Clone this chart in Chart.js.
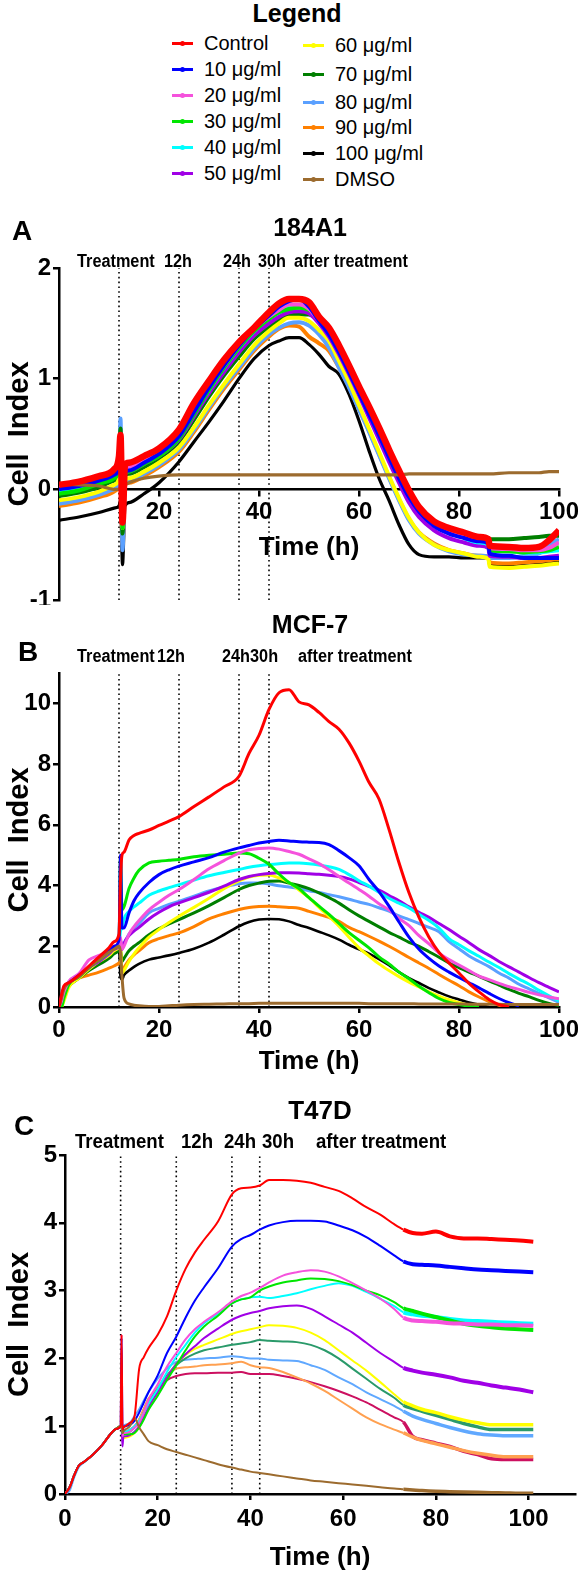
<!DOCTYPE html>
<html><head><meta charset="utf-8">
<script src="https://cdn.jsdelivr.net/npm/chart.js@4.4.1/dist/chart.umd.min.js"></script>
<style>
html,body{margin:0;padding:0;background:#fff;}
body{width:578px;height:1573px;position:relative;overflow:hidden;font-family:"Liberation Sans",Arial,Helvetica,sans-serif;color:#000;}
canvas{position:absolute;left:0;}
.lgt{position:absolute;font-size:20px;line-height:24px;white-space:nowrap;}
.lgl{position:absolute;height:3px;width:21px;}
.lgd{position:absolute;width:5px;height:5px;border-radius:50%;}
#legendTitle{position:absolute;left:197px;width:200px;top:0;text-align:center;font-weight:bold;font-size:25px;line-height:27px;}
</style></head>
<body>
<div id="legendTitle">Legend</div>
<div id="legend"></div>
<canvas id="cA" width="578" height="415" style="top:190px"></canvas>
<canvas id="cB" width="578" height="475" style="top:605px"></canvas>
<canvas id="cC" width="578" height="493" style="top:1080px"></canvas>
<div id="msg" style="position:absolute;left:0;top:0;color:red;font-size:10px"></div>
<script>
// ---------- data ----------
const seriesNames = ['Control','10 μg/ml','20 μg/ml','30 μg/ml','40 μg/ml','50 μg/ml','60 μg/ml','70 μg/ml','80 μg/ml','90 μg/ml','100 μg/ml','DMSO'];
const panelTitles = ['184A1','MCF-7','T47D'];
const panelLetters = ['A','B','C'];
const annotA = ['Treatment','12h','24h','30h','after treatment'];
const annotB = ['Treatment','12h','24h30h','after treatment'];
const annotC = ['Treatment','12h','24h','30h','after treatment'];
const markerTimes = [12,24,36,42];
const xTickLabelsAB = [0,20,40,60,80,100];
const yTicksA = [-1,0,1,2];
const yTicksB = [0,2,4,6,8,10];
const yTicksC = [0,1,2,3,4,5];

// Panel A: 184A1
const timeA = [0,4,8,11,12,12.3,12.7,13.2,14,17,20,24,27,30,33,36,39,42,44,46,48,50,52,54,56,58,60,62,64,66,68,70,72,75,78,81,84,85.9,86.1,90,93,96,98,100];
const aControl = [0.04,0.07,0.12,0.18,0.30, 0.49,-0.30,0.22,0.24,0.30, 0.37,0.54,0.78,0.98,1.17, 1.33,1.46,1.60,1.68,1.72, 1.72,1.69,1.56,1.46,1.30, 1.12,0.93,0.75,0.56,0.36, 0.17,-0.01,-0.16,-0.29,-0.35, -0.39,-0.43,-0.45,-0.51,-0.52, -0.53,-0.52,-0.46,-0.37];
const a10 = [0.00,0.03,0.08,0.13,0.20, 0.35,-0.30,0.15,0.17,0.24, 0.32,0.48,0.70,0.92,1.12, 1.30,1.45,1.57,1.65,1.70, 1.72,1.65,1.52,1.40,1.24, 1.06,0.87,0.68,0.49,0.29, 0.10,-0.07,-0.20,-0.33,-0.40, -0.44,-0.47,-0.49,-0.58,-0.60, -0.62,-0.62,-0.62,-0.62];
const a20 = [0.02,0.05,0.10,0.15,0.25, 0.40,-0.28,0.18,0.20,0.27, 0.34,0.50,0.72,0.93,1.12, 1.30,1.45,1.56,1.62,1.67, 1.67,1.63,1.52,1.41,1.25, 1.07,0.88,0.70,0.51,0.31, 0.12,-0.05,-0.18,-0.30,-0.37, -0.42,-0.45,-0.47,-0.53,-0.54, -0.55,-0.55,-0.53,-0.48];
const a30 = [-0.04,-0.01,0.05,0.10,0.20, 0.45,-0.35,0.14,0.16,0.23, 0.30,0.46,0.68,0.90,1.10, 1.28,1.43,1.54,1.60,1.63, 1.64,1.62,1.55,1.42,1.26, 1.08,0.89,0.70,0.50,0.30, 0.11,-0.06,-0.19,-0.31,-0.38, -0.42,-0.45,-0.47,-0.55,-0.56, -0.57,-0.56,-0.55,-0.52];
const a40 = [-0.02,0.01,0.06,0.11,0.20, 0.40,-0.30,0.15,0.17,0.24, 0.31,0.47,0.69,0.90,1.10, 1.28,1.43,1.55,1.60,1.64, 1.65,1.64,1.55,1.43,1.28, 1.10,0.91,0.72,0.53,0.33, 0.13,-0.04,-0.18,-0.31,-0.39, -0.44,-0.48,-0.50,-0.56,-0.56, -0.57,-0.57,-0.56,-0.55];
const a50 = [0.00,0.03,0.08,0.13,0.22, 0.35,-0.30,0.14,0.16,0.23, 0.30,0.45,0.66,0.87,1.06, 1.24,1.39,1.50,1.56,1.60, 1.61,1.59,1.50,1.38,1.22, 1.04,0.85,0.65,0.45,0.25, 0.06,-0.12,-0.25,-0.37,-0.44, -0.48,-0.51,-0.53,-0.60,-0.61, -0.62,-0.62,-0.61,-0.60];
const a60 = [-0.10,-0.07,-0.02,0.04,0.10, 0.30,-0.35,0.08,0.10,0.16, 0.24,0.38,0.56,0.76,0.95, 1.13,1.30,1.43,1.50,1.55, 1.55,1.52,1.44,1.34,1.16, 0.97,0.76,0.55,0.34,0.12, -0.08,-0.26,-0.39,-0.50,-0.55, -0.58,-0.61,-0.63,-0.70,-0.71, -0.70,-0.69,-0.68,-0.67];
const a70 = [-0.06,-0.03,0.02,0.08,0.15, 0.55,-0.40,0.12,0.14,0.20, 0.28,0.43,0.63,0.84,1.03, 1.20,1.36,1.47,1.53,1.57, 1.58,1.58,1.52,1.40,1.24, 1.06,0.87,0.68,0.48,0.28, 0.09,-0.08,-0.21,-0.32,-0.38, -0.41,-0.43,-0.44,-0.45,-0.45, -0.44,-0.43,-0.42,-0.42];
const a80 = [-0.13,-0.10,-0.05,0.00,0.08, 0.64,-0.55,0.06,0.08,0.14, 0.22,0.36,0.54,0.74,0.93, 1.10,1.27,1.40,1.46,1.50, 1.51,1.48,1.40,1.28,1.10, 0.92,0.72,0.52,0.31,0.10, -0.10,-0.28,-0.40,-0.50,-0.56, -0.59,-0.60,-0.61,-0.62,-0.62, -0.60,-0.58,-0.50,-0.45];
const a90 = [-0.15,-0.12,-0.07,-0.02,0.05, 0.20,-0.50,0.04,0.06,0.12, 0.20,0.34,0.52,0.72,0.91, 1.08,1.25,1.38,1.45,1.48, 1.47,1.38,1.32,1.25,1.10, 0.93,0.73,0.53,0.32,0.11, -0.09,-0.27,-0.39,-0.49,-0.55, -0.58,-0.60,-0.61,-0.66,-0.67, -0.66,-0.65,-0.64,-0.63];
const a100 = [-0.28,-0.25,-0.21,-0.17,-0.15, -0.10,-0.68,-0.15,-0.12,-0.04, 0.06,0.25,0.43,0.61,0.80, 1.00,1.18,1.30,1.34,1.37, 1.37,1.31,1.22,1.11,1.04, 0.86,0.62,0.35,0.10,-0.10, -0.32,-0.50,-0.59,-0.61,-0.61, -0.62,-0.62,-0.62,-0.68,-0.68, -0.67,-0.66,-0.66,-0.65];
const aDMSO = [0.05,0.04,0.03,0.00,0.00, 0.02,0.03,0.04,0.06,0.10, 0.12,0.13,0.13,0.13,0.13, 0.13,0.13,0.13,0.13,0.13, 0.13,0.13,0.13,0.13,0.13, 0.13,0.13,0.13,0.13,0.13, 0.13,0.14,0.14,0.14,0.14, 0.14,0.14,0.14,0.14,0.15, 0.15,0.15,0.16,0.16];

// Panel B: MCF-7
const timeB = [0,0.5,1,2,4, 6,8,10,11,12, 12.3,12.6,13,14,15, 16,18,20,22,24, 27,30,33,36,38, 40,42,44,46,48, 50,52,54,56,58, 60,62,64,66,68, 70,72,74,76,78, 80,82,84,86,88, 90,92,94,96,98, 100];
const bControl = [0,0.4,0.7,0.8,1.05, 1.35,1.65,1.95,2.15,2.4, 4.2,5.0,5.1,5.5,5.65, 5.72,5.83,5.98,6.12,6.27, 6.6,6.92,7.25,7.6,8.35, 8.95,9.8,10.35,10.45,10.05, 9.95,9.7,9.4,9.15,8.7, 8.1,7.4,6.85,5.85,4.75, 3.76,2.95,2.3,1.8,1.45, 1.12,0.78,0.5,0.25,0.08, 0,null,null,null,null, null];
const b10 = [0,0.35,0.65,0.8,1.05, 1.3,1.6,1.85,2.0,2.2, 5.0,2.6,2.6,3.1,3.5, 3.75,4.1,4.36,4.52,4.64, 4.78,4.92,5.1,5.24,5.32, 5.4,5.45,5.49,5.47,5.44, 5.43,5.42,5.35,5.15,4.92, 4.65,4.2,3.8,3.32,2.8, 2.3,1.9,1.6,1.35,1.15, 0.97,0.8,0.63,0.45,0.28, 0.14,0.04,null,null,null, null];
const b20 = [0,0.2,0.5,0.85,1.1, 1.55,1.7,1.85,2.0,2.1, 2.3,1.9,2.0,2.4,2.65, 2.85,3.2,3.45,3.68,3.87, 4.2,4.55,4.82,5.07,5.18, 5.22,5.24,5.2,5.12,5.03, 4.88,4.72,4.52,4.3,4.08, 3.87,3.65,3.4,3.2,2.92, 2.68,2.35,2.08,1.78,1.56, 1.38,1.2,1.02,0.9,0.78, 0.67,0.58,0.48,0.4,0.33, 0.27];
const b30 = [0,0,0.3,0.75,1.0, 1.3,1.55,1.8,1.95,2.1, 4.95,3.2,3.3,3.9,4.25, 4.5,4.75,4.8,4.83,4.86, 4.95,5.0,5.03,5.07,5.05, 4.9,4.7,4.38,4.1,3.9, 3.6,3.32,3.05,2.75,2.45, 2.2,1.95,1.65,1.42,1.15, 0.93,0.68,0.47,0.28,0.15, 0.08,0.03,0,null,null, null,null,null,null,null, null];
const b40 = [0,0.3,0.6,0.8,1.0, 1.3,1.55,1.8,1.95,2.05, 2.5,2.6,2.9,3.15,3.3, 3.42,3.68,3.82,3.93,4.03, 4.18,4.32,4.43,4.53,4.6, 4.65,4.69,4.72,4.74,4.74, 4.72,4.68,4.62,4.53,4.36, 4.16,3.98,3.78,3.58,3.42, 3.26,3.05,2.85,2.6,2.25, 2.05,1.85,1.67,1.48,1.3, 1.1,0.92,0.75,0.55,0.37, 0.2];
const b50 = [0,0.3,0.55,0.8,1.0, 1.3,1.5,1.75,1.9,2.0, 2.2,1.9,2.1,2.35,2.5, 2.62,2.9,3.12,3.3,3.43, 3.6,3.78,3.98,4.2,4.3, 4.36,4.4,4.42,4.42,4.41, 4.39,4.37,4.34,4.3,4.22, 4.1,3.97,3.85,3.67,3.5, 3.3,3.12,2.95,2.75,2.55, 2.33,2.12,1.89,1.7,1.5, 1.32,1.15,0.97,0.8,0.65, 0.5];
const b60 = [0,0,0.2,0.65,0.95, 1.25,1.5,1.7,1.85,1.95, 2.0,1.1,1.2,1.5,1.75, 1.95,2.3,2.55,2.78,2.99, 3.28,3.58,3.9,4.15,4.28, 4.34,4.35,4.25,4.1,3.85, 3.6,3.28,2.98,2.66,2.3, 1.95,1.68,1.42,1.2,1.0, 0.82,0.66,0.5,0.36,0.24, 0.14,0.06,null,null,null, null,null,null,null,null, null];
const b70 = [0,0.2,0.5,0.7,0.95, 1.2,1.4,1.6,1.75,1.85, 1.9,1.5,1.6,1.85,2.0, 2.12,2.38,2.58,2.74,2.88, 3.1,3.34,3.6,3.87,4.0, 4.08,4.14,4.15,4.08,4.0, 3.9,3.76,3.6,3.42,3.2, 3.0,2.82,2.64,2.46,2.3, 2.13,2.0,1.82,1.64,1.45, 1.3,1.15,1.01,0.86,0.72, 0.58,0.45,0.34,0.22,0.12, 0.05];
const b80 = [0,0.3,0.6,0.8,1.0, 1.25,1.5,1.7,1.85,1.95, 2.2,2.0,2.1,2.4,2.6, 2.75,3.1,3.25,3.38,3.48, 3.65,3.82,3.95,4.06,4.08, 4.08,4.05,3.99,3.95,3.9, 3.83,3.77,3.7,3.63,3.55, 3.46,3.38,3.27,3.16,3.0, 2.88,2.75,2.62,2.48,2.15, 1.92,1.68,1.5,1.33,1.12, 0.95,0.75,0.6,0.45,0.3, 0.15];
const b90 = [0,0.2,0.5,0.7,0.95, 1.05,1.15,1.28,1.35,1.45, 1.5,1.2,1.3,1.55,1.72, 1.85,2.12,2.25,2.35,2.44, 2.65,2.9,3.07,3.21,3.28, 3.31,3.32,3.3,3.28,3.25, 3.15,3.05,2.95,2.82,2.62, 2.48,2.33,2.17,2.0,1.82, 1.63,1.45,1.27,1.07,0.88, 0.7,0.5,0.33,0.18,0.06, 0,null,null,null,null, null];
const b100 = [0,0.2,0.5,0.75,1.0, 1.25,1.5,1.7,1.85,1.95, 1.0,0.9,1.05,1.2,1.32, 1.42,1.56,1.63,1.7,1.78, 1.92,2.12,2.38,2.66,2.8, 2.88,2.9,2.89,2.82,2.7, 2.6,2.48,2.36,2.22,2.05, 1.9,1.76,1.58,1.38,1.15, 0.95,0.79,0.62,0.48,0.35, 0.25,0.15,0.08,0,null, null,null,null,null,null, null];
const bDMSO = [0,0.3,0.6,0.8,1.0, 1.3,1.55,1.8,1.9,2.0, 1.8,1.0,0.3,0.1,0.06, 0.04,0.02,0.02,0.04,0.06, 0.08,0.09,0.1,0.11,0.11, 0.12,0.12,0.12,0.12,0.12, 0.12,0.12,0.12,0.12,0.12, 0.12,0.11,0.11,0.11,0.11, 0.11,0.1,0.1,0.1,0.1, 0.1,0.09,0.09,0.09,0.09, 0.08,0.08,0.08,0.08,0.08, 0.08];

// Panel C: T47D
const timeC = [0,1,2,3,4, 6,8,10,11,12, 12.2,12.4,12.6,13,14, 15,16,17,18,20, 22,24,26,28,30, 33,36,38,40,42, 44,47,50,53,56, 59,62,65,68,71, 73,75,77,80,83, 86,89,92,95,98, 101];
const cControl = [0,0.1,0.28,0.42,0.47, 0.58,0.72,0.9,0.96,1.0, 2.35,0.95,0.98,1.0,1.05, 1.15,1.85,2.02,2.15,2.35, 2.62,3.0,3.32,3.56,3.75, 4.02,4.42,4.51,4.52,4.55, 4.63,4.63,4.62,4.59,4.53, 4.47,4.36,4.23,4.12,3.98, 3.9,3.85,3.84,3.87,3.8, 3.77,3.77,3.76,3.75,3.74, 3.72];
const c10 = [0,0.1,0.28,0.42,0.47, 0.58,0.72,0.9,0.96,1.0, 2.3,0.9,0.98,1.0,1.02, 1.08,1.2,1.35,1.5,1.75, 2.08,2.32,2.6,2.85,3.05, 3.33,3.65,3.76,3.82,3.9, 3.96,4.01,4.03,4.03,4.02, 3.96,3.89,3.79,3.66,3.52, 3.43,3.39,3.38,3.37,3.35, 3.33,3.31,3.3,3.29,3.28, 3.27];
const c20 = [0,0.1,0.28,0.42,0.47, 0.58,0.72,0.9,0.96,1.0, 2.35,0.85,0.9,0.9,0.92, 0.98,1.05,1.2,1.38,1.62, 1.88,2.08,2.28,2.43,2.54, 2.68,2.84,2.92,2.97,3.04, 3.12,3.22,3.27,3.3,3.28, 3.21,3.11,3.0,2.88,2.73, 2.6,2.56,2.55,2.54,2.52, 2.51,2.5,2.5,2.49,2.49, 2.48];
const c30 = [0,0.1,0.28,0.42,0.47, 0.58,0.72,0.9,0.96,1.0, 1.0,0.9,0.88,0.88,0.88, 0.9,0.98,1.1,1.24,1.45, 1.68,1.9,2.12,2.32,2.47, 2.63,2.81,2.87,2.9,3.0, 3.06,3.12,3.15,3.18,3.17, 3.14,3.08,3.0,2.93,2.83, 2.74,2.7,2.66,2.61,2.56, 2.51,2.48,2.46,2.44,2.43, 2.42];
const c40 = [0,0.1,0.28,0.42,0.47, 0.58,0.72,0.9,0.96,1.0, 1.0,0.9,0.92,0.92,0.95, 1.0,1.08,1.2,1.33,1.55, 1.8,2.02,2.2,2.38,2.52, 2.66,2.81,2.87,2.9,2.91, 2.89,2.92,2.96,3.02,3.07, 3.11,3.07,2.98,2.88,2.77, 2.68,2.65,2.63,2.61,2.58, 2.56,2.55,2.54,2.53,2.52, 2.51];
const c50 = [0,0.1,0.28,0.42,0.47, 0.58,0.72,0.9,0.96,1.0, 1.0,0.7,0.85,0.85,0.87, 0.92,1.0,1.13,1.28,1.5, 1.72,1.92,2.06,2.18,2.3, 2.44,2.57,2.63,2.67,2.7, 2.74,2.77,2.78,2.73,2.62, 2.5,2.38,2.23,2.08,1.95, 1.86,1.82,1.79,1.76,1.72, 1.67,1.64,1.6,1.57,1.54, 1.5];
const c60 = [0,0.1,0.28,0.42,0.47, 0.58,0.72,0.9,0.96,1.0, 1.0,0.8,0.82,0.83,0.85, 0.9,0.98,1.12,1.28,1.5, 1.72,1.92,2.05,2.14,2.2, 2.28,2.36,2.4,2.43,2.46, 2.49,2.48,2.45,2.38,2.27, 2.12,1.97,1.82,1.65,1.47, 1.36,1.3,1.25,1.2,1.14, 1.09,1.05,1.02,1.02,1.02, 1.02];
const c70 = [0,0.1,0.28,0.42,0.47, 0.58,0.72,0.9,0.96,1.0, 1.0,0.88,0.9,0.9,0.92, 0.98,1.06,1.2,1.35,1.55, 1.75,1.9,2.0,2.07,2.12, 2.16,2.2,2.22,2.24,2.27, 2.26,2.25,2.24,2.2,2.12, 2.0,1.85,1.7,1.55,1.42, 1.31,1.26,1.22,1.16,1.1, 1.04,0.99,0.95,0.95,0.95, 0.95];
const c80 = [0,0.05,0.25,0.4,0.46, 0.58,0.72,0.9,0.96,1.0, 1.0,0.95,1.0,1.02,1.05, 1.15,1.25,1.38,1.5,1.7, 1.85,1.95,1.98,1.99,2.0, 2.01,2.03,2.02,2.0,2.0, 1.98,1.97,1.96,1.9,1.83, 1.72,1.62,1.5,1.4,1.3, 1.22,1.15,1.1,1.04,0.98, 0.93,0.89,0.87,0.86,0.86, 0.86];
const c90 = [0,0.1,0.28,0.42,0.47, 0.58,0.72,0.9,0.96,1.0, 1.0,0.9,0.92,0.92,0.95, 1.0,1.1,1.25,1.4,1.58, 1.75,1.85,1.87,1.88,1.9, 1.91,1.93,1.95,1.9,1.87, 1.86,1.8,1.72,1.63,1.52, 1.39,1.26,1.13,1.03,0.95, 0.9,0.84,0.79,0.74,0.69, 0.64,0.6,0.57,0.55,0.55, 0.55];
const c100 = [0,0.1,0.28,0.42,0.47, 0.58,0.72,0.9,0.96,1.0, 1.0,0.9,0.92,0.92,0.95, 1.0,1.1,1.25,1.4,1.55, 1.68,1.74,1.77,1.78,1.78, 1.79,1.79,1.8,1.77,1.77, 1.77,1.74,1.7,1.65,1.59, 1.52,1.44,1.35,1.24,1.13, 1.06,0.85,0.8,0.75,0.7, 0.63,0.58,0.52,0.51,0.51, 0.51];
const cDMSO = [0,0.1,0.28,0.42,0.47, 0.58,0.72,0.9,0.96,1.0, 1.0,0.9,0.92,0.95,1.0, 1.12,0.98,0.88,0.78,0.72, 0.66,0.62,0.58,0.54,0.5, 0.44,0.39,0.36,0.33,0.31, 0.29,0.26,0.23,0.2,0.18, 0.16,0.14,0.12,0.1,0.08, 0.07,0.06,0.05,0.04,0.035, 0.03,0.025,0.02,0.015,0.01, 0.01];

// ---------- styles ----------
const FONT = '"Liberation Sans", Arial, Helvetica, sans-serif';
const colorsAB = ['#ff0000','#0000ff','#f552dc','#00e600','#00ffff','#a000e6','#ffff00','#007f00','#5aa0ff','#ff8000','#000000','#9c6b2e'];
const colorsC  = ['#ff0000','#0000ff','#f552dc','#00e600','#00ffff','#a000e6','#ffff00','#2a9a6a','#60a8ff','#ffa050','#cc1060','#9c6b2e'];
const ordersAll = [0,3,4,5,6,7,8,9,10,11,12,1];

Chart.defaults.font.family = FONT;
Chart.defaults.color = '#000';

// legend (HTML)
const legendLayout = {
  col: [{sw:172, tx:204, rows:[43,69,95,121,147,173]}, {sw:303, tx:335, rows:[45,74,102,127,153,179]}]
};
(function(){
  const host = document.getElementById('legend');
  seriesNames.forEach((name, i) => {
    const c = legendLayout.col[i < 6 ? 0 : 1];
    const y = c.rows[i % 6];
    const ln = document.createElement('div'); ln.className='lgl';
    ln.style.left = c.sw+'px'; ln.style.top = (y-1.5)+'px'; ln.style.background = colorsAB[i];
    const dt = document.createElement('div'); dt.className='lgd';
    dt.style.left = (c.sw+8)+'px'; dt.style.top = (y-2.5)+'px'; dt.style.background = colorsAB[i];
    const tx = document.createElement('div'); tx.className='lgt';
    tx.style.left = c.tx+'px'; tx.style.top = (y-12)+'px'; tx.textContent = name;
    host.appendChild(ln); host.appendChild(dt); host.appendChild(tx);
  });
})();

// check lengths
(function(){
  const probs = [];
  const chk = (t, arrs, tag) => arrs.forEach((a,i)=>{ if (a.length !== t.length) probs.push(tag+i+':'+a.length+'/'+t.length); });
  chk(timeA,[aControl,a10,a20,a30,a40,a50,a60,a70,a80,a90,a100,aDMSO],'A');
  chk(timeB,[bControl,b10,b20,b30,b40,b50,b60,b70,b80,b90,b100,bDMSO],'B');
  chk(timeC,[cControl,c10,c20,c30,c40,c50,c60,c70,c80,c90,c100,cDMSO],'C');
  if (probs.length) document.getElementById('msg').textContent = probs.join(' ');
})();

const panelText = {
  id: 'panelText',
  afterDraw(chart, args, o) {
    const ctx = chart.ctx;
    ctx.save();
    ctx.fillStyle = '#000';
    ctx.textBaseline = 'middle';
    ctx.textAlign = 'left';
    ctx.font = 'bold ' + o.letterSize + 'px ' + FONT;
    ctx.fillText(o.letter, o.letterX, o.letterY);
    ctx.textAlign = 'center';
    ctx.font = 'bold ' + o.titleSize + 'px ' + FONT;
    ctx.fillText(o.title, o.titleX, o.titleY);
    ctx.textAlign = 'left';
    ctx.font = 'bold ' + o.annotSize + 'px ' + FONT;
    o.annots.forEach((s, i) => {
      ctx.save();
      ctx.translate(o.annotX[i], o.annotY);
      ctx.scale(o.annotScale, 1);
      ctx.fillText(s, 0, 0);
      ctx.restore();
    });
    ctx.restore();
  }
};

function buildChart(id, p) {
  const datasets = p.series.map((vals, i) => ({
    label: seriesNames[i],
    data: p.time.map((t, k) => ({x: t, y: vals[k]})),
    borderColor: p.colors[i],
    backgroundColor: p.colors[i],
    borderWidth: p.widths[i],
    pointRadius: 0,
    fill: false,
    cubicInterpolationMode: 'monotone',
    order: ordersAll[i],
    segment: p.thickFrom ? { borderWidth: c => (c.p0.parsed.x >= p.thickFrom ? p.thickWidths[i] : undefined) } : undefined
  }));
  markerTimes.forEach(t => datasets.push({
    label: 'marker', data: [{x: t, y: p.yMin}, {x: t, y: p.yMax}],
    borderColor: '#000', borderWidth: 1.6, borderDash: [1.6, 3.2], pointRadius: 0, order: 50
  }));
  const tickFont = {size: 24, weight: 'bold'};
  return new Chart(document.getElementById(id), {
    type: 'line',
    data: {datasets},
    plugins: [panelText],
    options: {
      responsive: false, animation: false, events: [], devicePixelRatio: 1,
      layout: {padding: p.padding},
      plugins: {legend: {display: false}, tooltip: {enabled: false}, panelText: p.text},
      scales: {
        x: {
          type: 'linear', min: 0, max: p.xMax, position: p.xPos,
          afterBuildTicks: s => { s.ticks = xTickLabelsAB.map(v => ({value: v})); },
          ticks: {font: tickFont, color: '#000', padding: p.xTickPad, maxRotation: 0, autoSkip: false,
                  callback: v => (p.hideZero && v === 0) ? '' : String(v)},
          grid: {drawOnChartArea: false, drawTicks: true, tickLength: 6, color: '#000', lineWidth: 2.5},
          border: {display: true, color: '#000', width: 2.5},
          title: {display: true, text: 'Time (h)', color: '#000', font: {size: 26, weight: 'bold'}, padding: {top: 2, bottom: 0}},
          afterFit: s => { if (p.xHeight) s.height = p.xHeight; s.paddingLeft = 0; s.paddingRight = 0; }
        },
        y: {
          type: 'linear', min: p.yMin, max: p.yMax,
          afterBuildTicks: s => { s.ticks = p.yTicks.map(v => ({value: v})); },
          ticks: {font: tickFont, color: '#000', padding: 2},
          grid: {drawOnChartArea: false, drawTicks: true, tickLength: 6, color: '#000', lineWidth: 2.5},
          border: {display: true, color: '#000', width: 2.5},
          title: {display: true, text: 'Cell  Index', color: '#000', font: {size: 29, weight: 'bold'}, padding: {top: 3, bottom: 0}},
          afterFit: s => { s.width = p.yWidth; s.paddingTop = 0; s.paddingBottom = 0; }
        }
      }
    }
  });
}

buildChart('cA', {
  time: timeA,
  series: [aControl,a10,a20,a30,a40,a50,a60,a70,a80,a90,a100,aDMSO],
  colors: colorsAB,
  widths: [6.5,4,4,4,4,4,4,4,4,4,3.2,3.2],
  xMax: 100, xPos: {y: 0}, hideZero: true, xTickPad: 3,
  yMin: -1, yMax: 2, yTicks: yTicksA, yWidth: 59,
  padding: {left: 0, right: 19, top: 78, bottom: 5},
  text: {letter: panelLetters[0], letterX: 12, letterY: 42, letterSize: 28,
         title: panelTitles[0], titleX: 310, titleY: 39, titleSize: 25,
         annots: annotA, annotX: [77,164,223,258,294], annotY: 72, annotSize: 17.5, annotScale: 0.93}
});
buildChart('cB', {
  time: timeB,
  series: [bControl,b10,b20,b30,b40,b50,b60,b70,b80,b90,b100,bDMSO],
  colors: colorsAB,
  widths: [3,3,3,3,3,3,3,3,3,3,2.6,3],
  xMax: 100, xPos: 'bottom', xHeight: 70, xTickPad: 3,
  yMin: 0, yMax: 11, yTicks: yTicksB, yWidth: 59,
  padding: {left: 0, right: 19, top: 68, bottom: 3},
  text: {letter: panelLetters[1], letterX: 18, letterY: 48, letterSize: 28,
         title: panelTitles[1], titleX: 310, titleY: 21, titleSize: 25,
         annots: annotB, annotX: [77,157,222,298], annotY: 52, annotSize: 17.5, annotScale: 0.93}
});
buildChart('cC', {
  time: timeC,
  series: [cControl,c10,c20,c30,c40,c50,c60,c70,c80,c90,c100,cDMSO],
  colors: colorsC,
  widths: [2,2,2,2,2,2,2,2,2,2,2,2],
  thickFrom: 73, thickWidths: [4,4,4,4,4,4,3.5,3.5,3.5,3.5,3.5,3.5],
  xMax: 110, xPos: 'bottom', xHeight: 79, xTickPad: 5,
  yMin: 0, yMax: 5, yTicks: yTicksC, yWidth: 65,
  padding: {left: 0, right: 3, top: 75, bottom: 0},
  text: {letter: panelLetters[2], letterX: 14, letterY: 47, letterSize: 28,
         title: panelTitles[2], titleX: 320, titleY: 32, titleSize: 26,
         annots: annotC, annotX: [75,181,224,262,316], annotY: 62, annotSize: 20, annotScale: 0.93}
});
</script>
</body></html>
